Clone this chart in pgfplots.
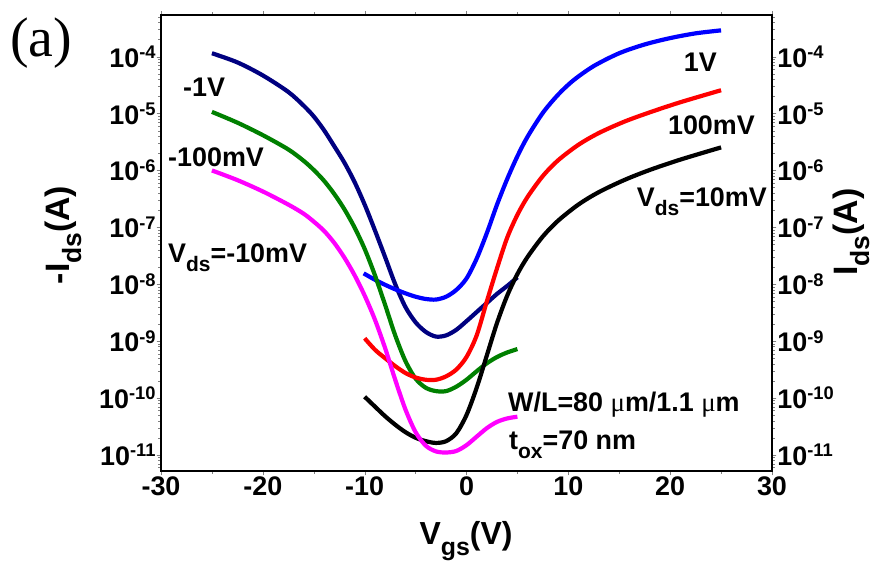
\documentclass[border=0pt]{standalone}
\usepackage{fontspec}
\setmainfont{Liberation Sans}
\newfontfamily\seriffont{Liberation Serif}
\usepackage{pgfplots}
\pgfplotsset{compat=1.18}
\definecolor{cnavy}{RGB}{0,0,128}
\definecolor{cblue}{RGB}{0,0,255}
\definecolor{cred}{RGB}{255,0,0}
\definecolor{cgreen}{RGB}{0,128,0}
\definecolor{cmag}{RGB}{255,0,255}
\newcommand\sub[1]{\raisebox{-0.33em}{\scalebox{0.78}{#1}}}
\newcommand\sups[1]{\raisebox{0.32em}{\scalebox{0.68}{#1}}}
\newcommand\tickfont{\fontsize{27}{30}\selectfont\bfseries}
\newcommand\labfont{\fontsize{27}{30}\selectfont\bfseries}
\newcommand\axfont{\fontsize{34}{38}\selectfont\bfseries}
\pgfplotsset{
  common/.style={
    at={(0,0)}, anchor=south west, scale only axis,
    width=611bp, height=456bp,
    xmin=-30, xmax=30, ymin=5.2e-12, ymax=5.4e-4,
    xtick={-30,-20,-10,0,10,20,30},
    xticklabels={-30,-20,-10,0,10,20,30},
    minor xtick={-25,-15,-5,5,15,25},
    ytick={1e-11,1e-10,1e-9,1e-8,1e-7,1e-6,1e-5,1e-4},
    yticklabels={10\sups{-11},10\sups{-10},10\sups{-9},10\sups{-8},10\sups{-7},10\sups{-6},10\sups{-5},10\sups{-4}},
    minor ytick={6e-12,7e-12,8e-12,9e-12,
      2e-11,3e-11,4e-11,5e-11,6e-11,7e-11,8e-11,9e-11,
      2e-10,3e-10,4e-10,5e-10,6e-10,7e-10,8e-10,9e-10,
      2e-9,3e-9,4e-9,5e-9,6e-9,7e-9,8e-9,9e-9,
      2e-8,3e-8,4e-8,5e-8,6e-8,7e-8,8e-8,9e-8,
      2e-7,3e-7,4e-7,5e-7,6e-7,7e-7,8e-7,9e-7,
      2e-6,3e-6,4e-6,5e-6,6e-6,7e-6,8e-6,9e-6,
      2e-5,3e-5,4e-5,5e-5,6e-5,7e-5,8e-5,9e-5,
      2e-4,3e-4,4e-4,5e-4},
    tick align=outside,
    axis line style={line width=1.3bp},
    ticklabel style={font=\tickfont, inner sep=1bp},
  }
}
\begin{document}
\begin{tikzpicture}
\useasboundingbox (-161bp,-94bp) rectangle (719bp,471bp);
\begin{axis}[ymode=log, common, yticklabel pos=left, xticklabel pos=bottom]
\addplot[cnavy, line width=4.2bp, smooth] coordinates {(-25,1.148e-4) (-22.5,7.94e-5) (-20,4.68e-5) (-17.5,2.4e-5) (-16,1.38e-5) (-15,8.91e-6) (-14,5.13e-6) (-13,2.69e-6) (-12,1.38e-6) (-11,6.31e-7) (-10,2.51e-7) (-9,8.91e-8) (-8,3.02e-8) (-7,1e-8) (-6,3.98e-9) (-5,2.14e-9) (-4,1.45e-9) (-3,1.2e-9) (-2,1.26e-9) (-1,1.58e-9) (0,2.24e-9) (1,3.24e-9) (2,4.68e-9) (3,6.76e-9) (4,9.33e-9) (5,1.32e-8)};
\addplot[cblue, line width=4.2bp, smooth] coordinates {(-10.1,1.55e-8) (-9,1.2e-8) (-8,9.77e-9) (-7,8.13e-9) (-6,6.92e-9) (-5,6.03e-9) (-4,5.5e-9) (-3,5.37e-9) (-2,6.03e-9) (-1,7.94e-9) (0,1.26e-8) (1,2.82e-8) (2,7.94e-8) (3,2.51e-7) (4,7.08e-7) (5,1.78e-6) (6,3.93e-6) (7.5,1.03e-5) (9,2.15e-5) (10.5,3.84e-5) (12.5,6.85e-5) (15,1.15e-4) (17.5,1.64e-4) (20,2.12e-4) (22.5,2.57e-4) (25,2.9e-4)};
\addplot[cgreen, line width=4.2bp, smooth] coordinates {(-25,1.07e-5) (-22.5,6.92e-6) (-20,4.17e-6) (-17.5,2.34e-6) (-16,1.48e-6) (-15,1.02e-6) (-14,6.61e-7) (-13,3.89e-7) (-12,2.09e-7) (-11,1e-7) (-10,4.17e-8) (-9,1.45e-8) (-8,4.37e-9) (-7,1.26e-9) (-6,4.47e-10) (-5,2.19e-10) (-4,1.51e-10) (-3,1.32e-10) (-2,1.32e-10) (-1,1.58e-10) (0,2.09e-10) (1,2.95e-10) (2,4.07e-10) (3,5.25e-10) (4,6.31e-10) (5,7.24e-10)};
\addplot[cred, line width=4.2bp, smooth] coordinates {(-10,1.12e-9) (-9,7.08e-10) (-8,5.01e-10) (-7,3.63e-10) (-6,2.75e-10) (-5,2.29e-10) (-4,2.09e-10) (-3,2.09e-10) (-2,2.4e-10) (-1,3.16e-10) (0,5.25e-10) (1,1.26e-9) (2,5.01e-9) (3,1.91e-8) (4,6.61e-8) (5,1.66e-7) (6,3.43e-7) (7.5,8.0e-7) (9,1.51e-6) (11,2.83e-6) (13,4.55e-6) (15.5,7.21e-6) (18,1.05e-5) (21,1.58e-5) (25,2.57e-5)};
\addplot[black, line width=4.2bp, smooth] coordinates {(-10,1.05e-10) (-9,7.08e-11) (-8,4.79e-11) (-7,3.39e-11) (-6,2.51e-11) (-5,2e-11) (-4,1.74e-11) (-3,1.62e-11) (-2,1.74e-11) (-1,2.4e-11) (0,5.01e-11) (1,1.51e-10) (2,5.62e-10) (3,2.09e-9) (4,6.31e-9) (5,1.51e-8) (6,3.02e-8) (7.5,6.92e-8) (9,1.31e-7) (11,2.52e-7) (13,4.16e-7) (15.5,6.79e-7) (18,1.02e-6) (21,1.55e-6) (25,2.54e-6)};
\addplot[cmag, line width=4.2bp, smooth] coordinates {(-25,1e-6) (-22.5,6.76e-7) (-20,4.27e-7) (-17.5,2.51e-7) (-16,1.74e-7) (-15,1.26e-7) (-14,8.71e-8) (-13,5.37e-8) (-12,2.95e-8) (-11,1.45e-8) (-10,6.31e-9) (-9,2.4e-9) (-8,7.59e-10) (-7,2.09e-10) (-6,6.31e-11) (-5,2.51e-11) (-4,1.45e-11) (-3,1.15e-11) (-2,1.1e-11) (-1,1.17e-11) (0,1.48e-11) (1,2.09e-11) (2,2.95e-11) (3,3.8e-11) (4,4.37e-11) (5,4.68e-11)};
\end{axis}
\begin{axis}[ymode=log, common, hide x axis, yticklabel pos=right]
\end{axis}
\begin{scope}[x=1bp,y=-1bp,shift={(-161bp,471bp)}]
\node[font=\seriffont\fontsize{56}{60}\selectfont, anchor=base west, inner sep=0] at (10,57) {(a)};
\node[font=\axfont, rotate=90, anchor=base, inner sep=0] at (70,235) {-I\sub{ds}(A)};
\node[font=\axfont, rotate=90, anchor=base, inner sep=0] at (858,232) {I\sub{ds}(A)};
\node[font=\fontsize{32}{36}\selectfont\bfseries, anchor=base, inner sep=0] at (466,545) {V\sub{gs}(V)};
\node[font=\labfont, anchor=base west, inner sep=0] at (183,97) {-1V};
\node[font=\labfont, anchor=base west, inner sep=0] at (168,167) {-100mV};
\node[font=\labfont, anchor=base west, inner sep=0] at (168,263) {V\sub{ds}=-10mV};
\node[font=\labfont, anchor=base east, inner sep=0] at (717,72) {1V};
\node[font=\labfont, anchor=base east, inner sep=0] at (755,135) {100mV};
\node[font=\labfont, anchor=base east, inner sep=0] at (767,207) {V\sub{ds}=10mV};
\node[font=\labfont, anchor=base west, inner sep=0] at (508,412) {W/L=80 {\seriffont\mdseries μ}m/1.1 {\seriffont\mdseries μ}m};
\node[font=\labfont, anchor=base west, inner sep=0] at (509,450) {t\sub{ox}=70 nm};
\end{scope}
\end{tikzpicture}
\end{document}
